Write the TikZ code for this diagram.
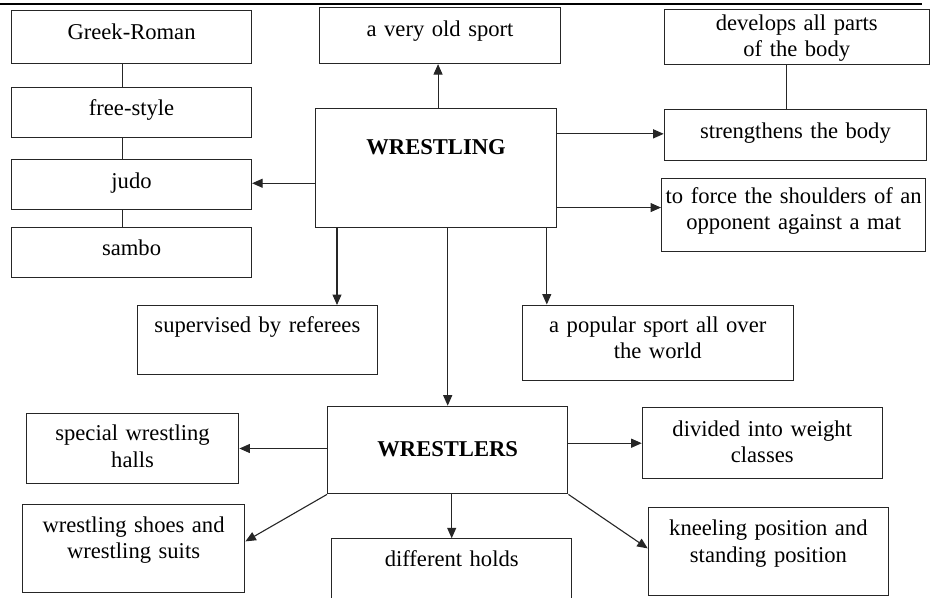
\documentclass[tikz,border=0pt]{standalone}
\usepackage{fontspec}
\setmainfont{Liberation Serif}
\usetikzlibrary{arrows.meta}

\tikzstyle{box} = [rectangle, draw=black!85, line width=1.1pt, inner sep=0pt,
anchor=north west, align=center, text height=28pt,
font=\fontsize{22.6}{26.5}\selectfont]
\tikzstyle{arrow} = [draw=black!85, line width=1.1pt, -{Triangle[length=10.5pt, width=9pt]}]
\tikzstyle{link} = [draw=black!85, line width=1.1pt]

\begin{document}
\begin{tikzpicture}[x=1pt, y=-1pt]
\useasboundingbox (0,0) rectangle (931,597);
\clip (0,0) rectangle (931,597);

% Page rule
\draw[line width=2.3pt] (0,3.8) -- (922,3.8);

% Nodes
\node[box, text width=240pt, text height=29pt, text depth=24pt] (greek) at (11,10) {Greek-Roman};
\node[box, text width=240pt, text height=28.3pt, text depth=21.7pt] (freestyle) at (11,86.7) {free-style};
\node[box, text width=240pt, text height=28.5pt, text depth=21.5pt] (judo) at (11,159) {judo};
\node[box, text width=240pt, text depth=22pt] (sambo) at (11,227) {sambo};

\node[box, text width=240.4pt, text height=29pt, text depth=27pt] (oldsport) at (319.3,7) {a very old sport};
\node[box, text width=240.4pt, text height=46pt, text depth=73.2pt] (wrestling) at (315.3,107.5) {\bfseries WRESTLING};

\node[box, text width=265pt, text height=21.3pt, text depth=34.5pt] (develops) at (663.7,8.5) {develops all parts\\of the body};
\node[box, text width=262.3pt, text height=28.4pt, text depth=22.6pt] (strengthens) at (663.7,109.3) {strengthens the body};
\node[box, text width=264.3pt, text height=24.3pt, text depth=48.5pt] (force) at (661,178.2) {to force the shoulders of an\\opponent against a mat};

\node[box, text width=240.3pt, text height=27.3pt, text depth=41.7pt] (supervised) at (136.7,305) {supervised by referees};
\node[box, text width=271pt, text height=27.3pt, text depth=48.2pt] (popular) at (521.7,304.5) {a popular sport all over\\the world};

\node[box, text width=240.3pt, text height=50.3pt, text depth=37.3pt] (wrestlers) at (327,405.7) {\bfseries WRESTLERS};
\node[box, text width=212.6pt, text height=27pt, text depth=42.5pt] (halls) at (25.7,413.2) {special wrestling\\halls};
\node[box, text width=222.6pt, text depth=60.3pt] (shoes) at (21.7,503.7) {wrestling shoes and\\wrestling suits};
\node[box, text width=240.3pt, text depth=60pt] (holds) at (331,538.3) {different holds};
\node[box, text width=240pt, text height=28.4pt, text depth=42.3pt] (divided) at (641.7,407.3) {divided into weight\\classes};
\node[box, text width=240.3pt, text height=28.3pt, text depth=60pt] (kneeling) at (647.7,506.7) {kneeling position and\\standing position};

% Links
\draw[link] ([xshift=-9pt]greek.south) -- ([xshift=-9pt]freestyle.north);
\draw[link] ([xshift=-9pt]freestyle.south) -- ([xshift=-9pt]judo.north);
\draw[link] ([xshift=-9pt]judo.south) -- ([xshift=-9pt]sambo.north);
\draw[link] ([xshift=-10.5pt]develops.south) -- ([xshift=-10.5pt]develops.south |- strengthens.north);

% Arrows
\draw[arrow] ([xshift=2pt]wrestling.north) -- ([xshift=2pt]wrestling.north |- oldsport.south);
\draw[arrow] ([yshift=1.3pt]judo.east -| wrestling.west) -- ([yshift=1.3pt]judo.east);
\draw[arrow] ([yshift=1.5pt]strengthens.west -| wrestling.east) -- ([yshift=1.5pt]strengthens.west);
\draw[arrow] ([yshift=7.6pt]force.west -| wrestling.east) -- ([yshift=7.6pt]force.west);
\draw[arrow] ([xshift=21.7pt]wrestling.south west) -- ([xshift=21.7pt]wrestling.south west |- supervised.north);
\draw[arrow] (wrestling.south -| wrestlers.north) -- (wrestlers.north);
\draw[arrow] ([xshift=-10pt]wrestling.south east) -- ([xshift=-10pt]wrestling.south east |- popular.north);

\draw[arrow] (wrestlers.west |- halls.east) -- (halls.east);
\draw[arrow] (wrestlers.south west) -- ([yshift=7pt]shoes.east);
\draw[arrow] (wrestlers.south -| holds.north) -- (holds.north);
\draw[arrow] (wrestlers.east |- divided.west) -- (divided.west);
\draw[arrow] (wrestlers.south east) -- ([yshift=3pt]kneeling.west);

\end{tikzpicture}
\end{document}
